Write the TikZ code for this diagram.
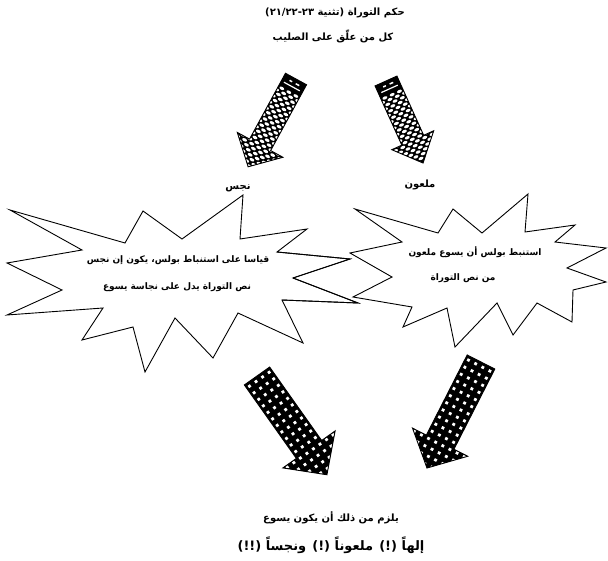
\documentclass[tikz,border=0pt]{standalone}
\usepackage{fontspec}
\TeXXeTstate=1
\newfontfamily\arfont[Script=Arabic]{DejaVu Sans}
\tikzset{
  artext/.style={inner sep=0pt, font=\arfont\bfseries\fontsize{10}{12}\selectfont},
  startext/.style={inner sep=0pt, font=\arfont\bfseries\fontsize{9}{11}\selectfont},
  bigtext/.style={inner sep=0pt, font=\arfont\bfseries\fontsize{13}{15}\selectfont},
  starline/.style={draw=black, line width=0.9pt, line join=miter, fill=white},
  arrowline/.style={draw=black, line width=0.9pt, line join=miter}
}
% arrow outline: L, w, h, H
\newcommand\arrowpath[4]{(0,-#2) -- (#1-#3,-#2) -- (#1-#3,-#4) -- (#1,0) -- (#1-#3,#4) -- (#1-#3,#2) -- (0,#2) -- cycle}
% dotted (black with white squares) arrow
\newcommand\dotarrow[4]{%
  \begin{scope}
    \clip \arrowpath{#1}{#2}{#3}{#4};
    \fill[black] (-2,-50) rectangle (#1+2,50);
    \foreach \i in {4,12,...,140}{
      \foreach \j in {-36,-28,...,36}{
        \fill[white] (\i-1.4,\j-1.4) rectangle (\i+1.4,\j+1.4);
      }
    }
  \end{scope}
  \draw[arrowline] \arrowpath{#1}{#2}{#3}{#4};
}
% scale-hatched arrow
\newcommand\scalearrow[4]{%
  \begin{scope}
    \clip \arrowpath{#1}{#2}{#3}{#4};
    \fill[black] (-2,-50) rectangle (#1+2,50);
    \foreach \i in {15,22,...,120}{
      \foreach \j in {-32,-24,...,32}{
        \fill[white] (\i,\j) ellipse (1.5 and 2.6);
        \fill[white] (\i+3.5,\j+4) ellipse (1.5 and 2.6);
      }
    }
    \fill[white] (3.5,-6) rectangle (5,-2);
    \fill[white] (3.5,2) rectangle (5,5);
    \fill[white] (8,-9) rectangle (9.2,9);
  \end{scope}
  \draw[arrowline] \arrowpath{#1}{#2}{#3}{#4};
}
\begin{document}
\begin{tikzpicture}[x=1pt,y=-1pt]
\useasboundingbox (0,0) rectangle (608,561);
\fill[white] (0,0) rectangle (608,561);

% title
\node[artext] (title1) at (335,13) {\beginR حكم التوراة (تثنية \beginL ٢١\kern0pt/\kern0pt٢٢\kern0pt-\kern0pt٢٣\endL)\endR};
\node[artext] (title2) at (333,36) {\beginR كل من علّق على الصليب\endR};

% top arrows
\begin{scope}[shift={(296,79)},rotate=-118.6]
  \coordinate (ta1) at (0,0);
  \scalearrow{100}{12}{25}{26}
\end{scope}
\begin{scope}[shift={(386,81)},rotate=-65.7]
  \coordinate (ta2) at (0,0);
  \scalearrow{90}{12}{25}{23}
\end{scope}

% labels
\node[artext] (najis) at (238,188) {\beginR نجس\endR};
\node[artext] (malun) at (420,185) {\beginR ملعون\endR};

% left star
\draw[starline] (10,210) -- (125,243) -- (143,211) -- (182,239) -- (243,195) -- (240,239)
  -- (307,229) -- (277,252) -- (350,259) -- (293,278) -- (358,303) -- (282,300)
  -- (303,343) -- (238,313) -- (213,358) -- (175,318) -- (145,372) -- (133,327)
  -- (82,340) -- (103,308) -- (7,315) -- (62,290) -- (7,263) -- (82,250) -- cycle;
% right star
\draw[starline] (355,209) -- (438,233) -- (453,209) -- (482,233) -- (528,194) -- (525,232)
  -- (575,225) -- (555,242) -- (606,248) -- (567,268) -- (606,282) -- (573,290)
  -- (572,322) -- (537,303) -- (513,335) -- (497,303) -- (455,347) -- (447,308)
  -- (403,327) -- (412,307) -- (353,297) -- (392,277) -- (350,253) -- (402,242) -- cycle;
% left star's points that show over the right star
\draw[line width=0.9pt] (277,252) -- (350,259) -- (293,278);
\draw[line width=0.9pt] (293,278) -- (358,303) -- (282,300);

% star texts
\node[startext] (ls1) at (178,260) {\beginR قياسا على استنباط بولس، يكون إن نجس\endR};
\node[startext] (ls2) at (177,287) {\beginR نص التوراة يدل على نجاسة يسوع\endR};
\node[startext] (rs1) at (475,252) {\beginR استنبط بولس أن يسوع ملعون\endR};
\node[startext] (rs2) at (463,278) {\beginR من نص التوراة\endR};

% bottom arrows
\begin{scope}[shift={(257,376)},rotate=-54.7]
  \coordinate (ba1) at (0,0);
  \dotarrow{121}{15.5}{31}{32}
\end{scope}
\begin{scope}[shift={(481,362)},rotate=-117]
  \coordinate (ba2) at (0,0);
  \dotarrow{119}{15.5}{29}{31}
\end{scope}

% conclusion
\node[artext] (c1) at (331,518) {\beginR يلزم من ذلك أن يكون يسوع\endR};
\node[bigtext] (c2) at (331,545) {\beginR إلهاً (!) ملعوناً (!) ونجساً (!!)\endR};
\end{tikzpicture}
\end{document}
